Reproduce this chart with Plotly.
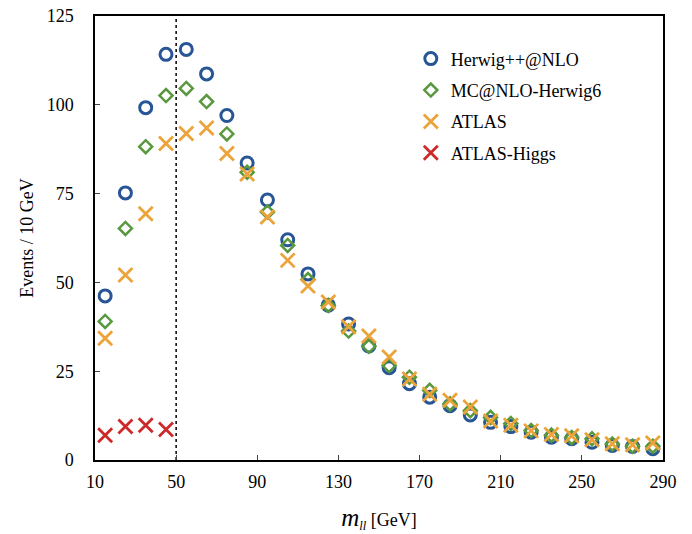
import plotly.graph_objects as go

x_bins = [15, 25, 35, 45, 55, 65, 75, 85, 95, 105, 115, 125, 135, 145, 155, 165, 175,
          185, 195, 205, 215, 225, 235, 245, 255, 265, 275, 285]

herwig_nlo = [46.2, 75.2, 99.2, 114.2, 115.6, 108.7, 97.0, 83.6, 73.2, 62.0, 52.4, 43.6,
              38.3, 32.1, 26.0, 21.5, 17.7, 15.3, 12.7, 10.6, 9.4, 7.8, 6.4, 6.0, 5.0, 4.1, 3.8, 3.2]
mcnlo_herwig6 = [39.0, 65.2, 88.2, 102.6, 104.6, 100.9, 91.8, 81.0, 69.8, 60.4, 50.8, 43.5,
                 36.3, 32.0, 26.6, 23.3, 19.6, 15.8, 13.9, 12.0, 10.3, 8.3, 7.0, 6.3, 6.0, 4.5, 3.9, 3.9]
atlas = [34.3, 52.1, 69.3, 89.1, 91.9, 93.5, 86.3, 80.5, 68.4, 56.2, 49.0, 44.5,
         37.5, 34.9, 29.0, 22.8, 18.5, 16.8, 14.9, 11.0, 9.8, 8.2, 7.2, 6.8, 5.7, 4.6, 4.3, 4.8]
higgs_x = [15, 25, 35, 45]
atlas_higgs = [7.0, 9.4, 9.8, 8.6]

x_ticks = [10, 50, 90, 130, 170, 210, 250, 290]
y_ticks = [0, 25, 50, 75, 100, 125]

BLUE = "rgb(40,85,150)"
GREEN = "rgb(88,152,62)"
ORANGE = "rgb(236,164,58)"
RED = "rgb(204,42,42)"

fig = go.Figure()
fig.add_trace(go.Scatter(
    x=x_bins, y=herwig_nlo, mode="markers", name="Herwig++@NLO", legendgroup="a",
    marker=dict(symbol="circle-open", size=12, color=BLUE, line=dict(width=3, color=BLUE))))
fig.add_trace(go.Scatter(
    x=x_bins, y=mcnlo_herwig6, mode="markers", name="MC@NLO-Herwig6", legendgroup="b",
    marker=dict(symbol="diamond-open", size=10, color=GREEN, line=dict(width=2.5, color=GREEN))))
fig.add_trace(go.Scatter(
    x=x_bins, y=atlas, mode="markers", name="ATLAS", legendgroup="c",
    marker=dict(symbol="x-thin", size=14, color=ORANGE, line=dict(width=2.8, color=ORANGE))))
fig.add_trace(go.Scatter(
    x=higgs_x, y=atlas_higgs, mode="markers", name="ATLAS-Higgs", legendgroup="d",
    marker=dict(symbol="x-thin", size=14, color=RED, line=dict(width=2.8, color=RED))))

fig.add_shape(type="line", x0=50, x1=50, y0=0, y1=125, xref="x", yref="y",
              line=dict(color="black", width=1.5, dash="dot"), layer="below")

fig.update_layout(
    width=692, height=534,
    margin=dict(l=95, r=29, t=16, b=74),
    plot_bgcolor="white", paper_bgcolor="white",
    font=dict(family="Liberation Serif", size=18, color="black"),
    showlegend=True,
    legend=dict(x=0.556, y=0.945, xanchor="left", yanchor="top",
                font=dict(size=18), bgcolor="rgba(0,0,0,0)",
                traceorder="grouped", tracegroupgap=5),
    xaxis=dict(range=[10, 290], tickvals=x_ticks, ticks="inside", ticklen=5,
               showgrid=False, zeroline=False, showline=True, linecolor="black",
               linewidth=1.5, mirror=True, ticklabelstandoff=5, automargin=False,
               ticklabeloverflow="allow", tickfont=dict(size=18),
               title=dict(text="<span style='font-size:25px'><i>m</i></span><sub><i>ll</i></sub> [GeV]",
                          font=dict(size=18), standoff=22)),
    yaxis=dict(range=[0, 125], tickvals=y_ticks, ticks="inside", ticklen=5,
               showgrid=False, zeroline=False, showline=True, linecolor="black",
               linewidth=1.5, mirror=True, ticklabelstandoff=16, automargin=False,
               ticklabeloverflow="allow", tickfont=dict(size=18),
               title=dict(text="Events / 10 GeV", font=dict(size=18), standoff=8)),
)

fig.write_html("out.html",
               config={"displayModeBar": False},
               post_script="document.body.style.margin='0';document.body.style.overflow='hidden';")
